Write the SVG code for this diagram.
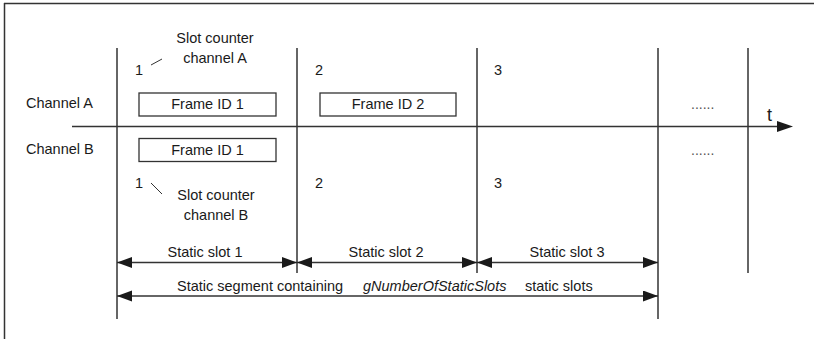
<svg xmlns="http://www.w3.org/2000/svg" width="814" height="339" viewBox="0 0 814 339">
<defs>
<marker id="ah" markerUnits="userSpaceOnUse" markerWidth="16" markerHeight="12" refX="15" refY="5.5" orient="auto-start-reverse">
<path d="M0,0 L15,5.5 L0,11 z" fill="#1a1a1a"/>
</marker>
<style>
text{font-family:"Liberation Sans",Arial,sans-serif;font-size:14.5px;fill:#1a1a1a}
.c{text-anchor:middle}
.it{font-style:italic}
.dots{fill:#555;font-size:14px}
.ln{stroke:#333;stroke-width:1.5;fill:none}
.thin{stroke:#333;stroke-width:1;fill:none}
.box{fill:#fff;stroke:#333;stroke-width:1.3}
.arr{stroke:#333;stroke-width:1.3;fill:none;marker-start:url(#ah);marker-end:url(#ah)}
</style>
</defs>
<rect width="814" height="339" fill="#fff"/>
<g id="frame">
<line class="ln" x1="4" y1="3.5" x2="814" y2="3.5"/>
<line class="ln" x1="4.5" y1="3" x2="4.5" y2="339"/>
</g>
<g id="grid">
<line class="ln" x1="117" y1="48" x2="117" y2="319"/>
<line class="ln" x1="297" y1="48" x2="297" y2="273"/>
<line class="ln" x1="477" y1="48" x2="477" y2="273"/>
<line class="ln" x1="658" y1="48" x2="658" y2="319"/>
<line class="ln" x1="748" y1="48" x2="748" y2="273"/>
</g>
<g id="connectors">
<line class="ln" x1="72" y1="126.5" x2="778" y2="126.5"/>
<path d="M777,121 L793,126.5 L777,132 z" fill="#1a1a1a"/>
<line class="thin" x1="151" y1="65" x2="162" y2="59"/>
<line class="thin" x1="151" y1="183" x2="162" y2="194"/>
<line class="arr" x1="117" y1="262.5" x2="297" y2="262.5"/>
<line class="arr" x1="297" y1="262.5" x2="477" y2="262.5"/>
<line class="arr" x1="477" y1="262.5" x2="658" y2="262.5"/>
<line class="arr" x1="117" y1="296" x2="658" y2="296"/>
</g>
<g id="labels">
<text x="26" y="108">Channel A</text>
<text x="26" y="154">Channel B</text>
<text x="767" y="121" style="font-size:18px">t</text>
<text class="dots" x="691" y="109">......</text>
<text class="dots" x="691" y="155">......</text>
<text x="135" y="75">1</text>
<text x="315" y="75">2</text>
<text x="494" y="75">3</text>
<text x="135" y="188">1</text>
<text x="315" y="188">2</text>
<text x="494" y="188">3</text>
</g>
<g id="slot-counter-a">
<text class="c" x="215" y="43">Slot counter</text>
<text class="c" x="215" y="63">channel A</text>
</g>
<g id="slot-counter-b">
<text class="c" x="216" y="200">Slot counter</text>
<text class="c" x="216" y="220">channel B</text>
</g>
<g id="frame-a1">
<rect class="box" x="139" y="93" width="137" height="23"/>
<text class="c" x="207.5" y="108.5">Frame ID 1</text>
</g>
<g id="frame-a2">
<rect class="box" x="320" y="93" width="136" height="23"/>
<text class="c" x="388" y="108.5">Frame ID 2</text>
</g>
<g id="frame-b1">
<rect class="box" x="139" y="138.5" width="137" height="23"/>
<text class="c" x="207.5" y="154.5">Frame ID 1</text>
</g>
<g id="slot-labels">
<text class="c" x="205" y="257">Static slot 1</text>
<text class="c" x="386" y="257">Static slot 2</text>
<text class="c" x="567" y="257">Static slot 3</text>
<text x="177" y="291">Static segment containing</text>
<text class="it" x="363" y="291">gNumberOfStaticSlots</text>
<text x="525" y="291">static slots</text>
</g>
</svg>
